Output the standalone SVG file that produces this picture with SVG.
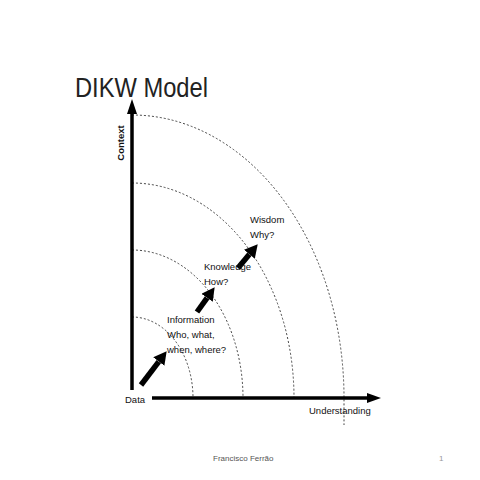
<svg xmlns="http://www.w3.org/2000/svg" width="480" height="480" viewBox="0 0 480 480">
<style>
.t{font-family:"Liberation Sans",Arial,sans-serif;font-size:9.5px;fill:#111}
.arc{fill:none;stroke:#444;stroke-width:1;stroke-dasharray:2 2}
.ax{stroke:#000;stroke-width:3.5}
.dk{stroke:#000;stroke-width:5.5;marker-end:url(#ah)}
</style>
<defs>
<marker id="ah" markerUnits="userSpaceOnUse" viewBox="0 -7 13 14" refX="0" refY="0" markerWidth="13" markerHeight="14" orient="auto">
<path d="M0,-7 L13,0 L0,7 z" fill="#000"/>
</marker>
</defs>
<rect width="480" height="480" fill="#fff"/>
<text x="75" y="97" font-family="'Liberation Sans',Arial,sans-serif" font-size="27" fill="#222" textLength="133" lengthAdjust="spacingAndGlyphs">DIKW Model</text>
<g id="arcs">
<path class="arc" d="M132,317 A61,81 0 0 1 193,398"/>
<path class="arc" d="M132,250 A111,148 0 0 1 243,398"/>
<path class="arc" d="M132,183 A162,215 0 0 1 294,398"/>
<path class="arc" d="M132,115 A212,283 0 0 1 344,398 L344,425"/>
</g>
<g id="axes">
<line class="ax" x1="132" y1="390" x2="132" y2="112"/>
<polygon points="132,99 127,114 137,114" fill="#000"/>
<line class="ax" x1="152" y1="398" x2="368" y2="398"/>
<polygon points="381,398 367,393 367,403" fill="#000"/>
</g>
<g id="connectors">
<line class="dk" x1="141" y1="385" x2="158.8" y2="361.6"/>
<line class="dk" x1="197" y1="312" x2="207.1" y2="297.8"/>
<line class="dk" x1="238" y1="268" x2="249.4" y2="254.3"/>
</g>
<g id="context"><text class="t" transform="translate(124,143) rotate(-90)" text-anchor="middle" font-weight="bold" font-size="10">Context</text></g>
<g id="wisdom"><text class="t" x="250" y="223">Wisdom</text><text class="t" x="250" y="238">Why?</text></g>
<g id="knowledge"><text class="t" x="204" y="270">Knowledge</text><text class="t" x="204" y="285">How?</text></g>
<g id="information"><text class="t" x="167" y="323">Information</text><text class="t" x="167" y="338">Who, what,</text><text class="t" x="167" y="353">when, where?</text></g>
<g id="data"><text class="t" x="125" y="403">Data</text></g>
<g id="understanding"><text class="t" x="309" y="414" font-size="10">Understanding</text></g>
<text x="213" y="461" font-family="'Liberation Sans',Arial,sans-serif" font-size="8" fill="#555">Francisco Ferrão</text>
<text x="439" y="461" font-family="'Liberation Sans',Arial,sans-serif" font-size="8" fill="#999">1</text>
</svg>
